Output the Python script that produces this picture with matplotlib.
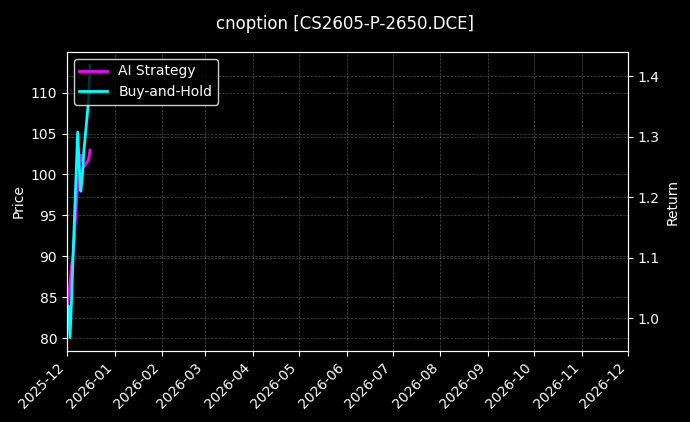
import pandas as pd
import matplotlib
matplotlib.use("Agg")
import matplotlib.pyplot as plt
import matplotlib.dates as mdates

# daily closes (Dec 2025)
dates = pd.to_datetime([
    "2025-12-01", "2025-12-02", "2025-12-03", "2025-12-04", "2025-12-05",
    "2025-12-08", "2025-12-09", "2025-12-10", "2025-12-11", "2025-12-12",
    "2025-12-15", "2025-12-16",
])
price = [82.5, 84.0, 80.1, 84.7, 90.1, 105.2, 101.0, 98.0, 99.8, 102.8, 108.8, 113.3]
ai_strategy = [1.000, 1.036, 1.058, 1.088, 1.104, 1.220, 1.255, 1.270, 1.262, 1.250, 1.262, 1.278]
buy_hold = [1.000, 1.020, 0.968, 1.031, 1.104, 1.308, 1.251, 1.210, 1.235, 1.276, 1.358, 1.418]

title = "cnoption [CS2605-P-2650.DCE]"

plt.style.use("dark_background")
fig, ax1 = plt.subplots(figsize=(6.9, 4.22), dpi=100)
fig.subplots_adjust(left=0.097, right=0.910, top=0.877, bottom=0.168)

# price on the left axis
ax1.plot(dates, price, color="cyan", alpha=0.4, linewidth=1.2)
ax1.set_ylabel("Price")
ax1.grid(True, linestyle="--", linewidth=0.5, alpha=0.3)

# equity curves on the right axis
ax2 = ax1.twinx()
ax2.plot(dates, ai_strategy, color="magenta", linewidth=2, label="AI Strategy")
ax2.plot(dates, buy_hold, color="cyan", linewidth=2, label="Buy-and-Hold")
ax2.set_ylabel("Return")
ax2.grid(True, linestyle="--", linewidth=0.5, alpha=0.3)
ax2.legend(loc="upper left", facecolor="black", edgecolor="white")

ax1.set_xlim(pd.Timestamp("2025-12-01"), pd.Timestamp("2026-12-01"))
ax1.xaxis.set_major_locator(mdates.MonthLocator())
ax1.xaxis.set_major_formatter(mdates.DateFormatter("%Y-%m"))
plt.setp(ax1.get_xticklabels(), rotation=45, ha="right")

fig.suptitle(title, fontsize=12, y=0.965)
fig.savefig("out.png", dpi=100)
